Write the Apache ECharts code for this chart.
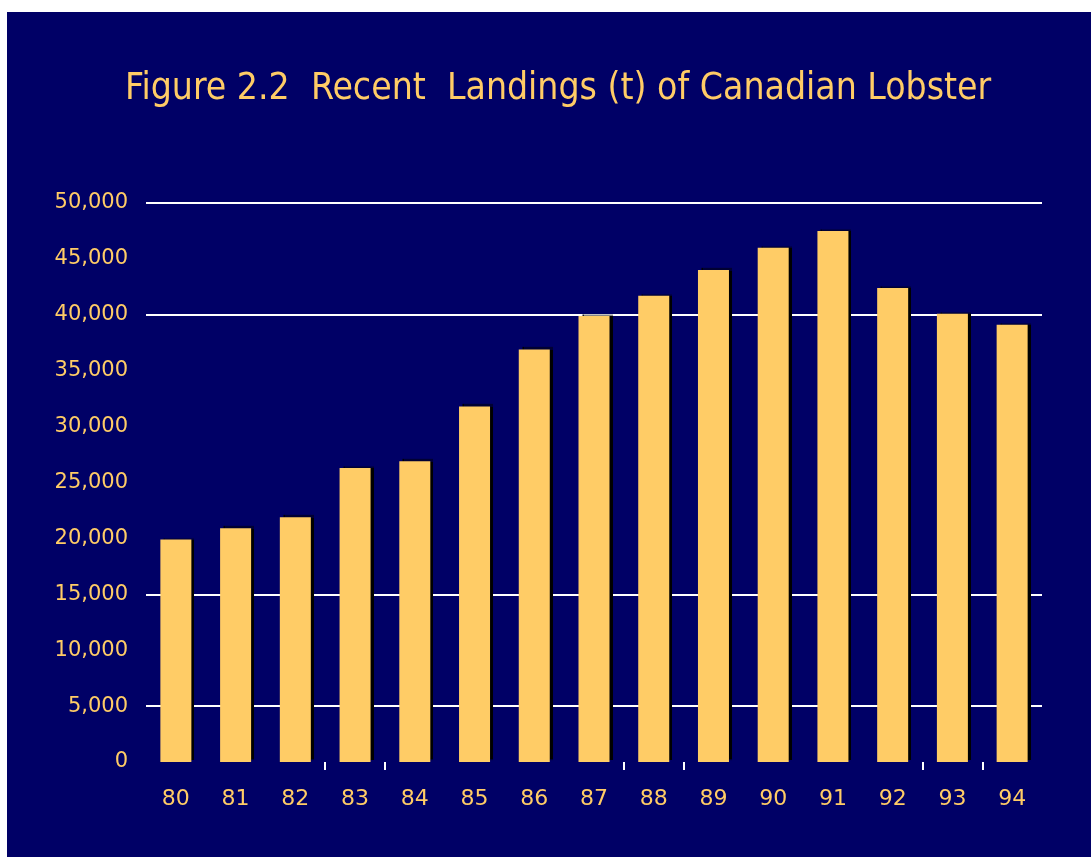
<!DOCTYPE html>
<html>
<head>
<meta charset="utf-8">
<style>
  html, body { margin: 0; padding: 0; background: #ffffff; }
  #chart { width: 1091px; height: 857px; }
</style>
<script src="https://cdn.jsdelivr.net/npm/echarts@6/dist/echarts.min.js"></script>
</head>
<body>
<div id="chart"></div>
<script>
// Data
const years = ['80','81','82','83','84','85','86','87','88','89','90','91','92','93','94'];
const landings = [19900, 20900, 21900, 26300, 26900, 31800, 36900, 39900, 41700, 44000, 46000, 47500, 42400, 40100, 39100];
// category boundaries (16 edges of 15 bands) and the ones that carry a tick mark
const boundaries = ['b0','b1','b2','b3','b4','b5','b6','b7','b8','b9','b10','b11','b12','b13','b14','b15'];
const tickedBoundaries = [3, 4, 8, 9, 13, 14];
const titleText = 'Figure 2.2  Recent  Landings (t) of Canadian Lobster';

const gold = '#FFCC66';
const navy = '#000066';
const clear = 'rgba(0,0,0,0)';

const chart = echarts.init(document.getElementById('chart'), null, { renderer: 'canvas' });
chart.setOption({
  backgroundColor: '#ffffff',
  animation: false,
  graphic: [{
    type: 'rect',
    z: -100,
    silent: true,
    shape: { x: 7, y: 12, width: 1084, height: 845 },
    style: { fill: navy }
  }],
  title: {
    text: titleText,
    left: 120,
    top: 66,
    textStyle: {
      color: gold,
      fontFamily: 'DejaVu Sans Condensed',
      fontWeight: 'normal',
      fontSize: 37
    }
  },
  grid: { left: 146, right: 49, top: 203, bottom: 95, containLabel: false },
  xAxis: [{
    type: 'category',
    data: years,
    boundaryGap: true,
    axisLine: { show: false },
    axisTick: { show: false },
    axisLabel: {
      color: gold,
      fontFamily: 'DejaVu Sans',
      fontSize: 22,
      margin: 26
    },
    splitLine: { show: false }
  }, {
    type: 'category',
    data: boundaries,
    boundaryGap: false,
    position: 'bottom',
    axisLine: { show: false },
    axisLabel: { show: false },
    splitLine: { show: false },
    axisTick: {
      show: true,
      length: 8,
      interval: function (index) { return tickedBoundaries.indexOf(index) >= 0; },
      lineStyle: { color: '#ffffff', width: 2 }
    }
  }],
  yAxis: {
    type: 'value',
    min: 0,
    max: 50000,
    interval: 5000,
    axisLine: { show: false },
    axisTick: { show: false },
    axisLabel: {
      color: gold,
      fontFamily: 'DejaVu Sans',
      fontSize: 21,
      margin: 18,
      formatter: function (v) { return v.toLocaleString('en-US'); }
    },
    splitLine: {
      show: true,
      showMinLine: true,
      showMaxLine: true,
      lineStyle: {
        width: 2,
        color: [clear, '#ffffff', clear, '#ffffff', clear, clear, clear, clear, '#ffffff', clear, '#ffffff']
      }
    }
  },
  series: [{
    type: 'bar',
    xAxisIndex: 0,
    data: landings,
    barWidth: 31,
    itemStyle: {
      color: gold,
      shadowColor: '#000000',
      shadowOffsetX: 3,
      shadowOffsetY: -2,
      shadowBlur: 1
    }
  }]
});
</script>
</body>
</html>
